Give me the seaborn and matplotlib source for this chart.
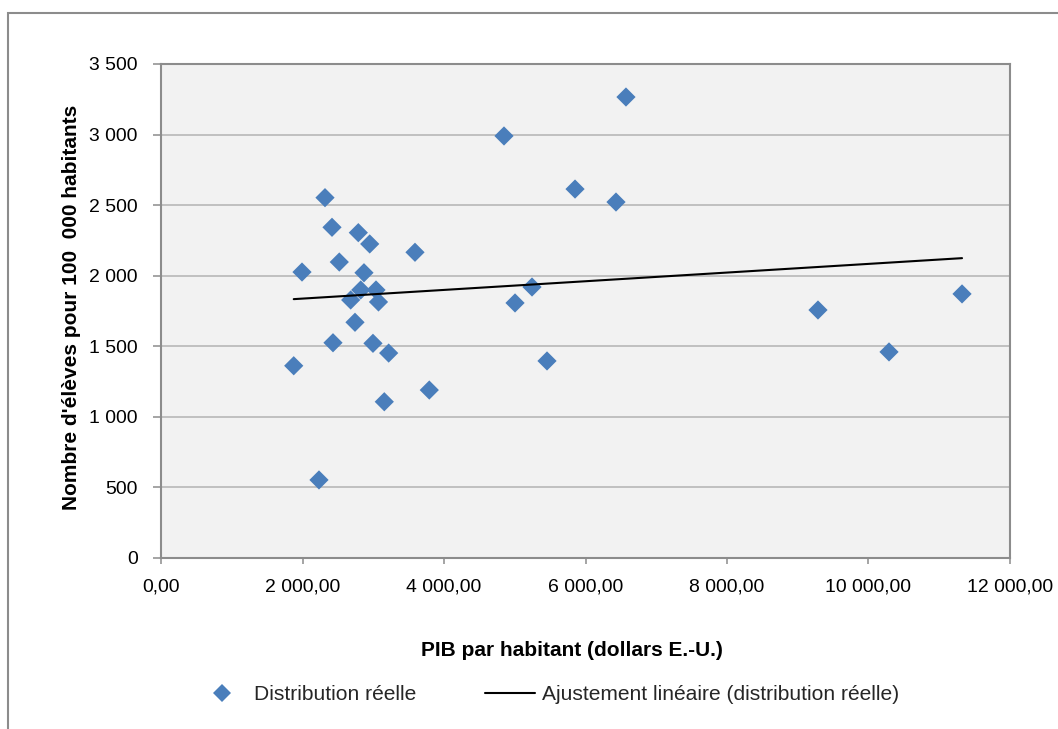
import numpy as np
import pandas as pd
import matplotlib
matplotlib.use("Agg")
import matplotlib.pyplot as plt
from matplotlib import font_manager
from matplotlib.ticker import FuncFormatter, FixedLocator
from matplotlib.patches import Rectangle
from matplotlib.lines import Line2D
import seaborn as sns

# PIB par habitant (dollars E.-U.) et nombre d'élèves pour 100 000 habitants
pib_par_habitant = [1876, 1993, 2233, 2318, 2417, 2431, 2520, 2681, 2742, 2789,
                    2823, 2869, 2950, 2996, 3039, 3074, 3156, 3218, 3590, 3792,
                    4848, 5004, 5244, 5456, 5852, 6431, 6572, 9286, 10290, 11322]
eleves_pour_100k = [1362, 2026, 553, 2553, 2343, 1525, 2097, 1828, 1670, 2305,
                    1899, 2021, 2225, 1521, 1899, 1814, 1107, 1452, 2166, 1190,
                    2990, 1807, 1920, 1396, 2614, 2522, 3266, 1757, 1460, 1871]

x_ticks = [0, 2000, 4000, 6000, 8000, 10000, 12000]
y_ticks = [0, 500, 1000, 1500, 2000, 2500, 3000, 3500]

serie_points = "Distribution réelle"
serie_tendance = "Ajustement linéaire (distribution réelle)"
titre_x = "PIB par habitant (dollars E.-U.)"
titre_y = "Nombre d'élèves pour 100  000 habitants"

BLEU = "#4a7ebb"
GRIS_AXE = "#8c8c8c"
GRIS_GRILLE = "#c0c0c0"

sns.set_theme(style="white")


def police_disponible(nom):
    try:
        font_manager.findfont(font_manager.FontProperties(family=nom),
                              fallback_to_default=False)
        return True
    except ValueError:
        return False


if police_disponible("Liberation Sans Narrow"):
    famille, k = "Liberation Sans Narrow", 1.0
else:
    famille, k = "Liberation Sans", 0.82
plt.rcParams["font.family"] = [famille, "DejaVu Sans"]

taille_ticks = 17 * k
taille_legende = 18.4 * k
taille_titres = 18.3 * k


def format_entier(v, pos):
    return f"{v:,.0f}".replace(",", " ")


def format_decimal(v, pos):
    return f"{v:,.2f}".replace(",", " ").replace(".", ",")


df = pd.DataFrame({"pib": pib_par_habitant, "eleves": eleves_pour_100k})

W, H = 1058, 729
fig = plt.figure(figsize=(W / 100, H / 100), dpi=100)
fig.patch.set_facecolor("white")
ax = fig.add_axes([161 / W, (H - 558) / H, (1010 - 161) / W, (558 - 64) / H])
ax.set_facecolor("#f2f2f2")

sns.scatterplot(data=df, x="pib", y="eleves", marker="D", s=96, color=BLEU,
                edgecolor="none", linewidth=0, ax=ax, legend=False, zorder=3)
sns.regplot(data=df, x="pib", y="eleves", scatter=False, ci=None, ax=ax,
            line_kws=dict(color="black", lw=1.5, zorder=4))

ax.set_xlim(x_ticks[0], x_ticks[-1])
ax.set_ylim(y_ticks[0], y_ticks[-1])
ax.xaxis.set_major_locator(FixedLocator(x_ticks))
ax.yaxis.set_major_locator(FixedLocator(y_ticks))
ax.xaxis.set_major_formatter(FuncFormatter(format_decimal))
ax.yaxis.set_major_formatter(FuncFormatter(format_entier))
ax.set_xlabel("")
ax.set_ylabel("")

ax.yaxis.grid(True, color=GRIS_GRILLE, lw=1.4)
ax.xaxis.grid(False)
ax.set_axisbelow(True)
for sp in ax.spines.values():
    sp.set_visible(True)
    sp.set_color(GRIS_AXE)
    sp.set_linewidth(1.5)

ax.tick_params(axis="y", left=True, direction="out", length=5.8, width=1.1,
               color=GRIS_AXE, pad=11, labelsize=taille_ticks, labelcolor="black")
ax.tick_params(axis="x", bottom=True, direction="out", length=4.5, width=1.1,
               color=GRIS_AXE, pad=10, labelsize=taille_ticks, labelcolor="black")

fig.text(572 / W, 1 - 650 / H, titre_x, ha="center", va="center",
         fontsize=taille_titres, fontweight="bold", color="black")
fig.text(72 / W, 1 - 307 / H, titre_y, ha="center", va="center", rotation=90,
         fontsize=taille_titres, fontweight="bold", color="black")

poignees = [
    Line2D([], [], marker="D", ls="none", color=BLEU, markersize=9.5,
           markeredgewidth=0),
    Line2D([], [], color="black", lw=1.5),
]
fig.legend(poignees, [serie_points, serie_tendance], loc="center",
           bbox_to_anchor=(548 / W, 1 - 695 / H), ncol=2, frameon=False,
           fontsize=taille_legende, handlelength=2.38, handletextpad=0.33,
           columnspacing=3.3, borderaxespad=0)

# cadre extérieur du graphique
fig.add_artist(Rectangle((8 / W, -0.05), 1.2, (1 - 13 / H) + 0.05,
                         transform=fig.transFigure, fill=False,
                         edgecolor=GRIS_AXE, lw=1.5, clip_on=False))

fig.savefig("out.png", dpi=100)
